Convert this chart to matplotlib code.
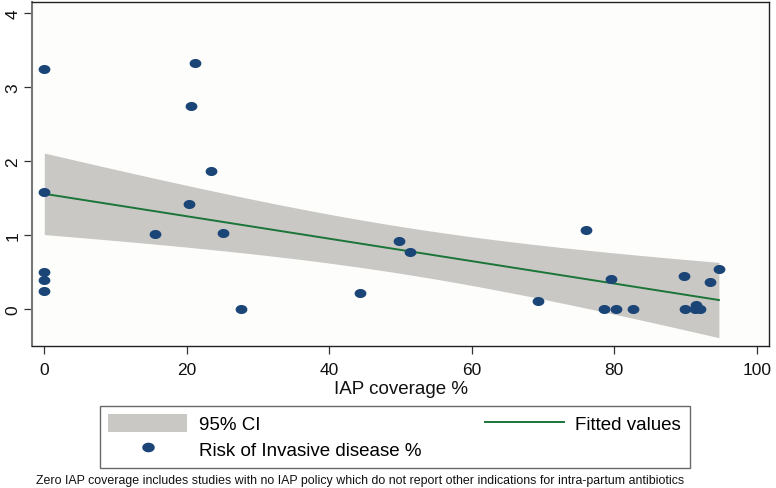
import numpy as np
import matplotlib
matplotlib.use("Agg")
import matplotlib.pyplot as plt
from matplotlib.path import Path
from matplotlib.lines import Line2D
from matplotlib.patches import Patch

plt.rcParams['font.family'] = ['Liberation Sans', 'DejaVu Sans']

# Data
iap_coverage = [0, 0, 0, 0, 0,
                21.2, 20.6, 23.35, 20.3, 15.6, 25.1, 27.6,
                44.3, 49.8, 51.3,
                69.3, 76.1, 79.5, 78.6, 80.2, 82.6,
                89.8, 90.0, 91.5, 91.3, 92.0, 93.4, 94.7]
risk_invasive = [3.24, 1.58, 0.50, 0.39, 0.25,
                 3.33, 2.75, 1.86, 1.42, 1.01, 1.03, 0.0,
                 0.22, 0.92, 0.77,
                 0.11, 1.07, 0.40, 0.0, 0.0, 0.0,
                 0.45, 0.0, 0.05, 0.0, 0.0, 0.36, 0.54]
x_ticks = [0, 20, 40, 60, 80, 100]
y_ticks = [0, 1, 2, 3, 4]
x_label = "IAP coverage %"
legend_labels = ["95% CI", "Risk of Invasive disease %", "Fitted values"]
footnote = ("Zero IAP coverage includes studies with no IAP policy which do not "
            "report other indications for intra-partum antibiotics")

x = np.asarray(iap_coverage, float)
y = np.asarray(risk_invasive, float)

# Linear fit with 95% CI of the mean prediction (as Stata lfitci)
n = len(x)
b1, b0 = np.polyfit(x, y, 1)
resid = y - (b0 + b1 * x)
s = np.sqrt(np.sum(resid ** 2) / (n - 2))
xm = x.mean()
sxx = np.sum((x - xm) ** 2)
tval = 2.0555  # t(0.975, 26)
xs = np.linspace(x.min(), x.max(), 200)
fit = b0 + b1 * xs
se = s * np.sqrt(1.0 / n + (xs - xm) ** 2 / sxx)
lo, hi = fit - tval * se, fit + tval * se

band_color = '#c9c8c5'
line_color = '#1b7438'
dot_color = '#1b4577'

fig = plt.figure(figsize=(7.76, 4.89), dpi=100, facecolor='white')
ax = fig.add_axes([0.0412, 0.2904, 0.9504, 0.7035])
ax.set_facecolor('#fdfefb')

ax.fill_between(xs, lo, hi, color=band_color, linewidth=0, zorder=1)
ax.plot(xs, fit, color=line_color, linewidth=1.4, zorder=2)

# slightly elliptical marker as in the reference
t = np.linspace(0, 2 * np.pi, 40)
ell = Path(np.column_stack([np.cos(t), 0.77 * np.sin(t)]), closed=True)
ax.scatter(x, y, marker=ell, s=72, color=dot_color, linewidths=0, zorder=3)

ax.set_xlim(-1.73, 101.8)
ax.set_ylim(-0.5, 4.15)
ax.set_xticks(x_ticks)
ax.set_yticks(y_ticks)
ax.tick_params(axis='both', direction='out', length=5.5, width=0.9,
               color='#333333', labelsize=12.5, labelcolor='#111111')
ax.tick_params(axis='x', pad=6)
ax.tick_params(axis='y', pad=3)
for lab in ax.get_yticklabels():
    lab.set_rotation(90)
    lab.set_va('center')
ax.set_xlabel(x_label, fontsize=13.5, labelpad=2.5, color='#111111')

for side in ['top', 'right', 'bottom']:
    ax.spines[side].set_color('#222222')
    ax.spines[side].set_linewidth(1.0)
ax.spines['left'].set_color('#777777')
ax.spines['left'].set_linewidth(1.5)

handles = [Patch(facecolor=band_color, edgecolor='none'),
           Line2D([], [], marker=ell, linestyle='none', markersize=9,
                  markerfacecolor=dot_color, markeredgewidth=0),
           Line2D([], [], color=line_color, linewidth=1.4)]
leg = fig.legend(handles, legend_labels, ncol=2,
                 loc='upper left', bbox_to_anchor=(100 / 776, 1 - 406.5 / 489),
                 bbox_transform=fig.transFigure,
                 fontsize=13.5, frameon=True, fancybox=False,
                 edgecolor='#444444', borderpad=0.45, handlelength=4.2,
                 handleheight=1.07, handletextpad=0.62, columnspacing=3.4,
                 labelspacing=0.36, borderaxespad=0)
leg.get_frame().set_linewidth(1.0)

fig.text(36 / 776, 1 - 481 / 489, footnote, fontsize=8.9, va='center',
         ha='left', color='#111111')

fig.savefig('out.png', dpi=100, facecolor='white')
